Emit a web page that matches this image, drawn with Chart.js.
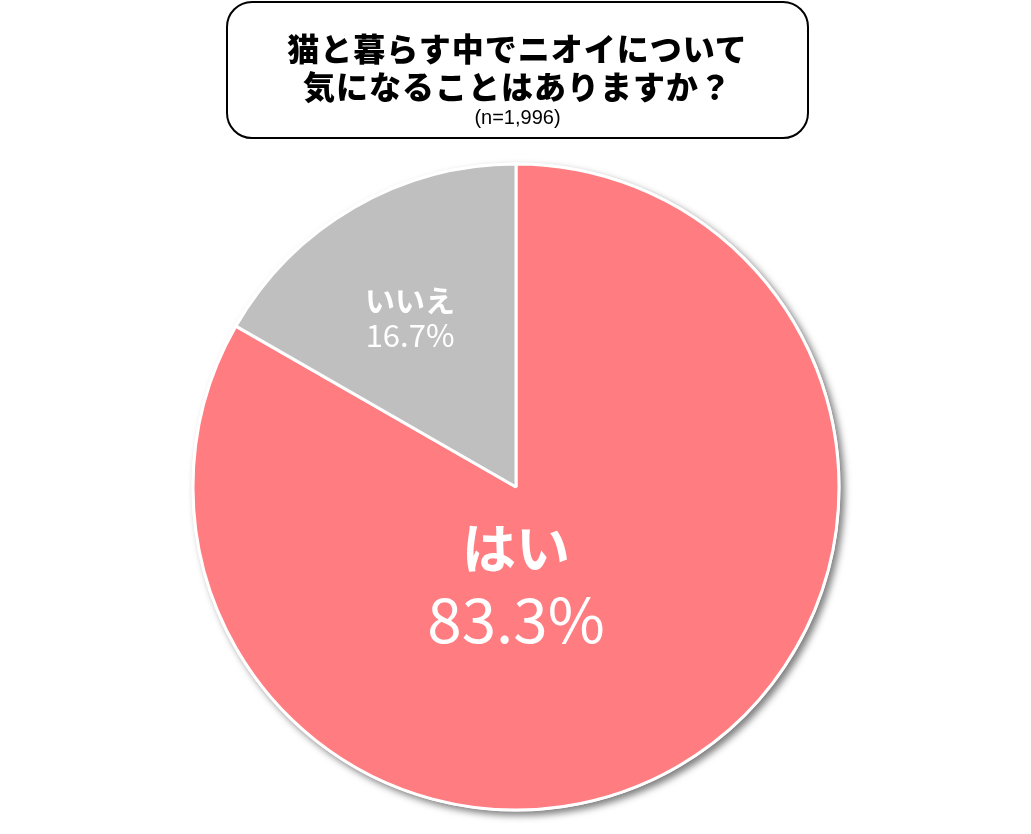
<!DOCTYPE html>
<html>
<head>
<meta charset="utf-8">
<script src="https://cdn.jsdelivr.net/npm/chart.js@4.4.1/dist/chart.umd.min.js"></script>
<style>
  html, body { margin: 0; padding: 0; background: #ffffff; }
  #wrap { position: relative; width: 1031px; height: 834px; }
  #c { position: absolute; left: 0; top: 0; }
  #titlebox {
    position: absolute; left: 226px; top: 1px; width: 579px; height: 134px;
    border: 2px solid #000; border-radius: 26px; background: #fff;
    box-sizing: content-box; text-align: center;
    font-family: "Noto Sans CJK JP", sans-serif; color: #000;
  }
  .t1 { position: absolute; left: 0; right: 0; font-size: 32px; font-weight: 900; line-height: 32px; letter-spacing: 1px; }
  .tn { position: absolute; left: 0; right: 0; font-family: "Liberation Sans Narrow", "Arial Narrow", "Liberation Sans", sans-serif; font-size: 20px; line-height: 20px; }
</style>
</head>
<body>
<div id="wrap">
  <canvas id="c" width="1031" height="834"></canvas>
  <div id="titlebox">
    <div class="t1" style="top:28px;">猫と暮らす中でニオイについて</div>
    <div class="t1" style="top:66px;">気になることはありますか？</div>
    <div class="tn" style="top:104px;">(n=1,996)</div>
  </div>
</div>
<script>
const categories = ['はい', 'いいえ'];
const values = [83.3, 16.7];
const valueLabels = ['83.3%', '16.7%'];
const sliceColors = ['#FF7C80', '#BFBFBF'];

const shadowPlugin = {
  id: 'pieShadow',
  beforeDatasetsDraw(chart) {
    const arc = chart.getDatasetMeta(0).data[0];
    if (!arc) return;
    const ctx = chart.ctx;
    ctx.save();
    ctx.shadowColor = 'rgba(0,0,0,0.5)';
    ctx.shadowBlur = 7;
    ctx.shadowOffsetX = 4;
    ctx.shadowOffsetY = 4;
    ctx.fillStyle = '#ffffff';
    ctx.beginPath();
    ctx.arc(arc.x, arc.y, arc.outerRadius + 1.5, 0, Math.PI * 2);
    ctx.fill();
    ctx.restore();
  }
};

// label placement as fractions of the radius, relative to pie centre
const labelSpots = [
  { dx: 0.0, dy1: 0.19, dy2: 0.41, s1: 54, s2: 62 },
  { dx: -0.328, dy1: -0.577, dy2: -0.47, s1: 30, s2: 31 }
];

const labelPlugin = {
  id: 'sliceLabels',
  afterDatasetsDraw(chart) {
    const meta = chart.getDatasetMeta(0);
    const ctx = chart.ctx;
    ctx.save();
    ctx.fillStyle = '#ffffff';
    ctx.textAlign = 'center';
    ctx.textBaseline = 'middle';
    meta.data.forEach((arc, i) => {
      const sp = labelSpots[i];
      const R = arc.outerRadius;
      const x = arc.x + sp.dx * R;
      ctx.font = 'bold ' + sp.s1 + 'px "Noto Sans CJK JP", sans-serif';
      ctx.fillText(categories[i], x, arc.y + sp.dy1 * R);
      ctx.font = sp.s2 + 'px "Noto Sans CJK JP", sans-serif';
      ctx.fillText(valueLabels[i], x, arc.y + sp.dy2 * R);
    });
    ctx.restore();
  }
};

new Chart(document.getElementById('c'), {
  type: 'pie',
  data: {
    labels: categories,
    datasets: [{
      data: values,
      backgroundColor: sliceColors,
      borderColor: '#ffffff',
      borderWidth: 3
    }]
  },
  options: {
    responsive: false,
    animation: false,
    radius: 323,
    rotation: 0,
    layout: { padding: { left: 1, right: 0, top: 140, bottom: 0 } },
    plugins: {
      legend: { display: false },
      tooltip: { enabled: false },
      title: { display: false }
    }
  },
  plugins: [shadowPlugin, labelPlugin]
});
</script>
</body>
</html>
